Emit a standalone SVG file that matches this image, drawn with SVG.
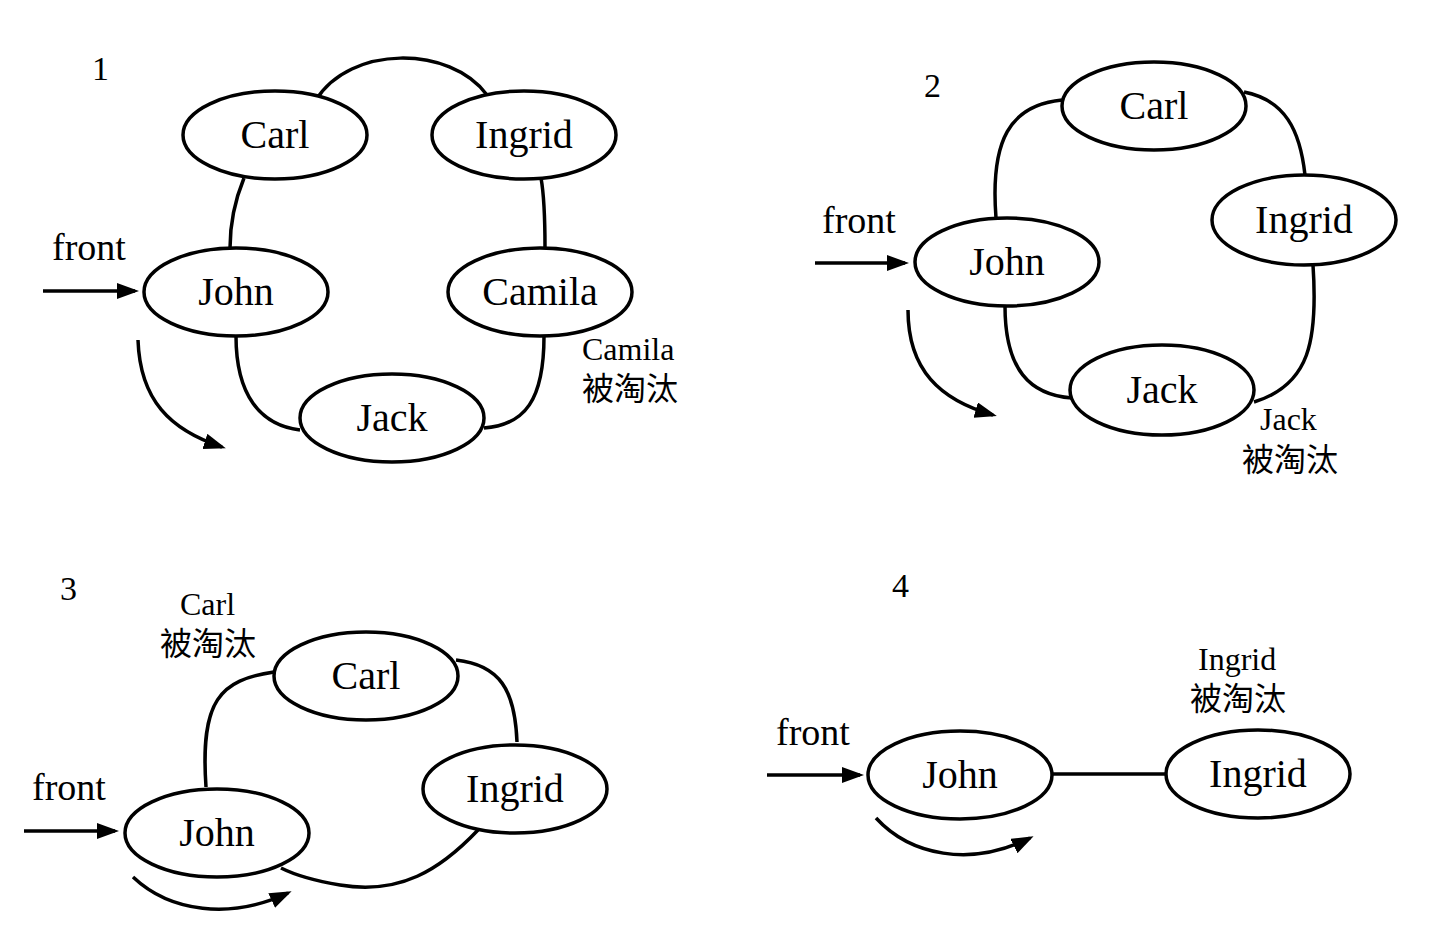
<svg xmlns="http://www.w3.org/2000/svg" width="1431" height="933" viewBox="0 0 1431 933">
<style>
.n{fill:#fff;stroke:#000;stroke-width:3.5}
.c{fill:none;stroke:#000;stroke-width:3.5}
.a{fill:none;stroke:#000;stroke-width:3.5;marker-end:url(#ah)}
.t{font-family:"Liberation Serif","Times New Roman",serif;font-size:40px;text-anchor:middle;fill:#000}
.f{font-family:"Liberation Serif","Times New Roman",serif;font-size:38px;fill:#000}
.l{font-family:"Liberation Serif","Noto Sans CJK SC",serif;font-size:32px;fill:#000}
.p{font-family:"Liberation Serif","Times New Roman",serif;font-size:34px;fill:#000}
</style>
<defs>
<marker id="ah" markerUnits="userSpaceOnUse" markerWidth="24" markerHeight="18" refX="18" refY="8" orient="auto">
<path d="M0,0 L22,8 L0,16 z" fill="#000"/>
</marker>
</defs>
<rect width="1431" height="933" fill="#fff"/>
<g id="connectors">
<path class="c" d="M316,100 C350,45 450,45 487,95"/>
<path class="c" d="M244,178 C235,200 230,225 230,248"/>
<path class="c" d="M541,178 C545,200 545,225 545,248"/>
<path class="c" d="M236,336 C236,395 260,425 300,430"/>
<path class="c" d="M544,336 C544,400 525,425 484,428"/>
<path class="a" d="M43,291 L135,291"/>
<path class="a" d="M138,340 C140,400 170,430 222,447"/>
<path class="c" d="M996,218 C990,140 1010,105 1062,100"/>
<path class="c" d="M1244,92 C1285,100 1300,130 1305,175"/>
<path class="c" d="M1313,265 C1318,340 1310,385 1254,402"/>
<path class="c" d="M1005,306 C1005,370 1030,395 1072,398"/>
<path class="a" d="M815,263 L905,263"/>
<path class="a" d="M908,310 C908,370 940,400 993,415"/>
<path class="c" d="M206,787 C200,700 220,680 274,672"/>
<path class="c" d="M456,660 C500,665 515,690 517,742"/>
<path class="c" d="M478,830 C440,870 400,895 340,885 C310,880 295,875 281,868"/>
<path class="a" d="M24,831 L115,831"/>
<path class="a" d="M133,877 C170,912 230,920 288,893"/>
<path class="c" d="M1052,774 L1167,774"/>
<path class="a" d="M767,775 L860,775"/>
<path class="a" d="M876,818 C910,855 970,868 1030,838"/>
</g>
<g id="labels">
<text class="p" x="92" y="80">1</text>
<text class="f" x="52" y="260">front</text>
<text class="l" x="582" y="360">Camila</text>
<text class="l" x="582" y="400">被淘汰</text>
<text class="p" x="924" y="97">2</text>
<text class="f" x="822" y="233">front</text>
<text class="l" x="1260" y="430">Jack</text>
<text class="l" x="1242" y="471">被淘汰</text>
<text class="p" x="60" y="600">3</text>
<text class="l" x="180" y="615">Carl</text>
<text class="l" x="160" y="655">被淘汰</text>
<text class="f" x="32" y="800">front</text>
<text class="p" x="892" y="597">4</text>
<text class="l" x="1198" y="670">Ingrid</text>
<text class="l" x="1190" y="710">被淘汰</text>
<text class="f" x="776" y="745">front</text>
</g>
<g id="p1-carl"><ellipse class="n" cx="275" cy="135" rx="92" ry="44"/><text class="t" x="275" y="148">Carl</text></g>
<g id="p1-ingrid"><ellipse class="n" cx="524" cy="135" rx="92" ry="44"/><text class="t" x="524" y="148">Ingrid</text></g>
<g id="p1-john"><ellipse class="n" cx="236" cy="292" rx="92" ry="44"/><text class="t" x="236" y="305">John</text></g>
<g id="p1-camila"><ellipse class="n" cx="540" cy="292" rx="92" ry="44"/><text class="t" x="540" y="305">Camila</text></g>
<g id="p1-jack"><ellipse class="n" cx="392" cy="418" rx="92" ry="44"/><text class="t" x="392" y="431">Jack</text></g>
<g id="p2-carl"><ellipse class="n" cx="1154" cy="106" rx="92" ry="44"/><text class="t" x="1154" y="119">Carl</text></g>
<g id="p2-ingrid"><ellipse class="n" cx="1304" cy="220" rx="92" ry="45"/><text class="t" x="1304" y="233">Ingrid</text></g>
<g id="p2-john"><ellipse class="n" cx="1007" cy="262" rx="92" ry="44"/><text class="t" x="1007" y="275">John</text></g>
<g id="p2-jack"><ellipse class="n" cx="1162" cy="390" rx="92" ry="45"/><text class="t" x="1162" y="403">Jack</text></g>
<g id="p3-carl"><ellipse class="n" cx="366" cy="676" rx="92" ry="44"/><text class="t" x="366" y="689">Carl</text></g>
<g id="p3-ingrid"><ellipse class="n" cx="515" cy="789" rx="92" ry="44"/><text class="t" x="515" y="802">Ingrid</text></g>
<g id="p3-john"><ellipse class="n" cx="217" cy="833" rx="92" ry="44"/><text class="t" x="217" y="846">John</text></g>
<g id="p4-john"><ellipse class="n" cx="960" cy="775" rx="92" ry="44"/><text class="t" x="960" y="788">John</text></g>
<g id="p4-ingrid"><ellipse class="n" cx="1258" cy="774" rx="92" ry="44"/><text class="t" x="1258" y="787">Ingrid</text></g>
</svg>
